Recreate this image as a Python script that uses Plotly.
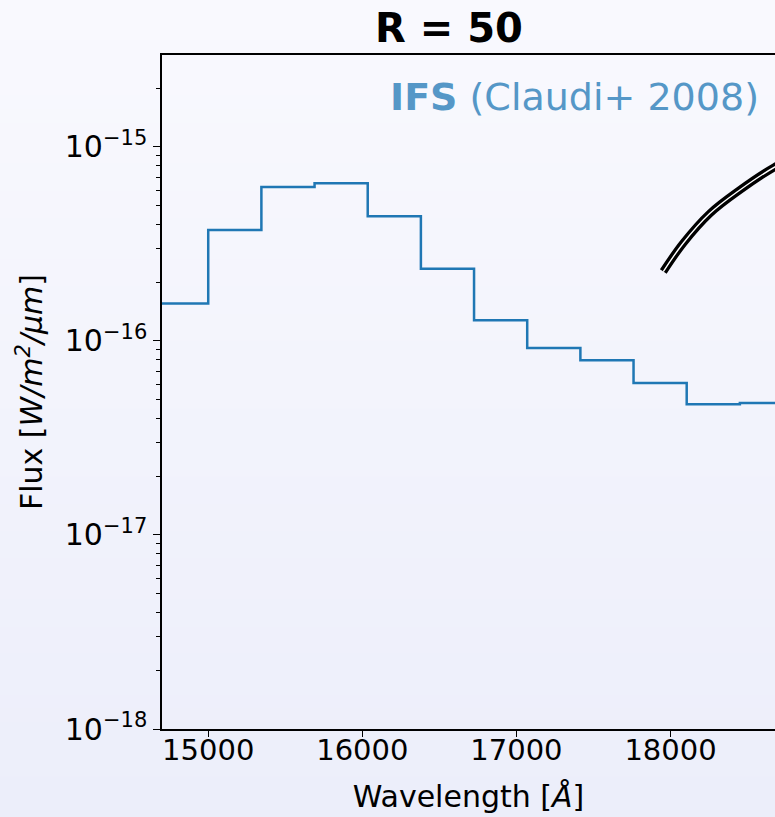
import plotly.graph_objects as go

# ---- data ----
ifs_wavelength = [14482.5, 14827.5, 15172.5, 15517.5, 15862.5, 16207.5, 16552.5,
                  16897.5, 17242.5, 17587.5, 17932.5, 18277.5, 18622.5, 18967.5]
ifs_flux = [1.56e-16, 1.56e-16, 3.73e-16, 6.22e-16, 6.50e-16, 4.40e-16, 2.36e-16,
            1.28e-16, 9.20e-17, 7.95e-17, 6.07e-17, 4.72e-17, 4.79e-17, 4.79e-17]

model_wavelength = [17953, 18082, 18256, 18450, 18677, 18720]
model_flux = [2.28e-16, 3.19e-16, 4.55e-16, 6.00e-16, 7.89e-16, 8.2e-16]

x_tick_vals = [15000, 16000, 17000, 18000]
x_tick_text = ["15000", "16000", "17000", "18000"]
y_tick_vals = [1e-18, 1e-17, 1e-16, 1e-15]
y_tick_text = ["10<sup>\u221218</sup>", "10<sup>\u221217</sup>",
               "10<sup>\u221216</sup>", "10<sup>\u221215</sup>"]
y_minor_vals = [k * 10.0 ** e for e in (-18, -17, -16, -15) for k in range(2, 10)]

W, H = 775, 817
ML, MR, MT, MB = 162, 0, 55, 88
FONT = "DejaVu Sans"

fig = go.Figure()

fig.add_trace(go.Scatter(
    x=ifs_wavelength, y=ifs_flux, mode="lines", line_shape="hvh",
    line=dict(color="#1f77b4", width=2.5), showlegend=False, hoverinfo="skip"))

fig.add_trace(go.Scatter(
    x=model_wavelength, y=model_flux, mode="lines", line_shape="spline",
    line=dict(color="black", width=8), showlegend=False, hoverinfo="skip"))
fig.add_trace(go.Scatter(
    x=model_wavelength, y=model_flux, mode="lines", line_shape="spline",
    line=dict(color="white", width=1.4), showlegend=False, hoverinfo="skip"))

# background gradient bands
pw, ph = W - ML - MR, H - MT - MB
x0p, x1p = -ML / pw, 1 + MR / pw
y_bot, y_top = -MB / ph, 1 + MT / ph
top_c = (249, 249, 254)
bot_c = (236, 238, 250)
n = 60
shapes = []
for i in range(n):
    t = i / (n - 1)
    c = tuple(round(top_c[j] + (bot_c[j] - top_c[j]) * t) for j in range(3))
    ya = y_top - (y_top - y_bot) * i / n
    yb = y_top - (y_top - y_bot) * (i + 1) / n
    shapes.append(dict(type="rect", xref="paper", yref="paper", x0=x0p, x1=x1p,
                       y0=yb - 0.002, y1=ya, fillcolor="rgb(%d,%d,%d)" % c,
                       line=dict(width=0), layer="below"))

fig.update_layout(
    width=W, height=H,
    margin=dict(l=ML, r=MR, t=MT, b=MB, pad=0),
    paper_bgcolor="rgb(%d,%d,%d)" % top_c,
    plot_bgcolor="rgba(0,0,0,0)",
    shapes=shapes,
    font=dict(family=FONT, color="black", size=29),
    xaxis=dict(
        range=[14700, 18678], tickvals=x_tick_vals, ticktext=x_tick_text,
        ticks="outside", ticklen=6, ticklabelstandoff=-12,
        tickwidth=1.2, tickcolor="black", showline=True, linecolor="black",
        linewidth=1.5, mirror=True, showgrid=False, zeroline=False,
        tickfont=dict(size=29, family=FONT),
        title=dict(text="Wavelength [<i>Å</i>]", font=dict(size=30, family=FONT), standoff=20),
    ),
    yaxis=dict(
        type="log", range=[-18, -14.526], tickvals=y_tick_vals, ticktext=y_tick_text,
        ticks="outside", ticklen=7, tickwidth=1.2, tickcolor="black",
        showline=True, linecolor="black", linewidth=1.5, mirror=False,
        showgrid=False, zeroline=False, tickfont=dict(size=30, family=FONT),
        minor=dict(tickvals=y_minor_vals, ticks="outside", ticklen=4,
                   tickwidth=1, tickcolor="black", showgrid=False),
        title=dict(text="Flux [<i>W/m<sup>2</sup>/μm</i>]", font=dict(size=30, family=FONT), standoff=13),
    ),
    annotations=[
        dict(text="<b>R = 50</b>", xref="paper", yref="paper",
             x=(449 - ML) / pw, y=1 + (55 - 28) / ph, xanchor="center", yanchor="middle",
             showarrow=False, font=dict(size=40, family=FONT, color="black")),
        dict(text="<b>IFS</b> (Claudi+ 2008)", xref="paper", yref="paper",
             x=(761 - ML) / pw, y=1 - (97 - 55) / ph, xanchor="right", yanchor="middle",
             showarrow=False, font=dict(size=38, family=FONT, color="#5597c7")),
    ],
)

fig.write_html("out.html", config={"displayModeBar": False},
               post_script="document.body.style.margin='0';document.body.style.overflow='hidden';")
